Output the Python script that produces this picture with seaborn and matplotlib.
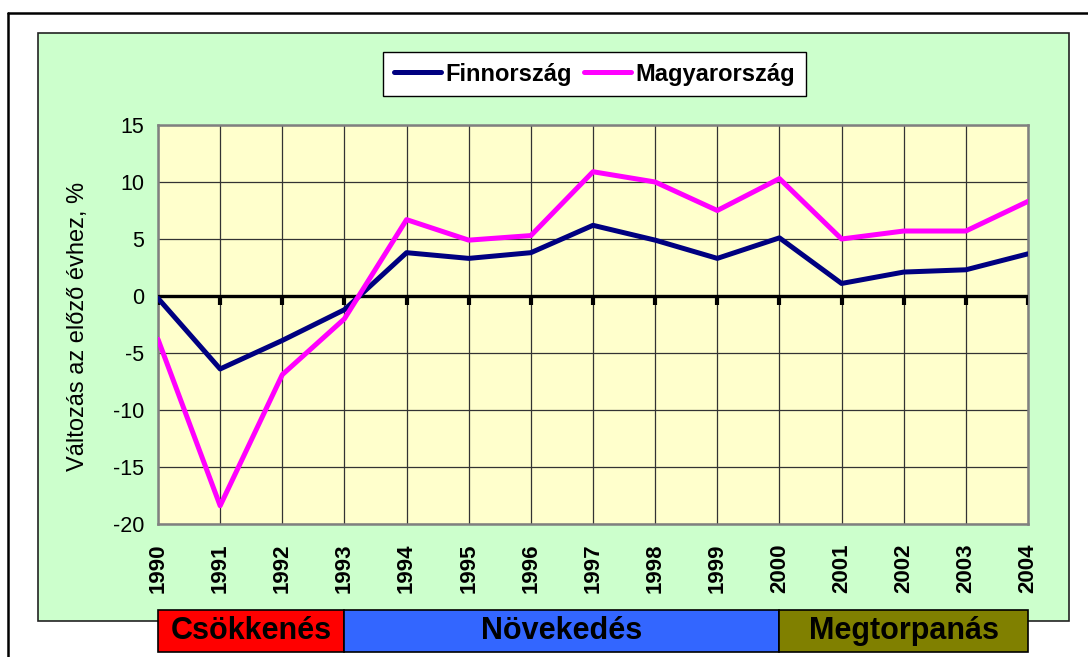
import pandas as pd
import seaborn as sns
import matplotlib.pyplot as plt
from matplotlib.patches import Rectangle
from matplotlib.lines import Line2D
import matplotlib.transforms as mtransforms

# adatok (leolvasva a grafikonrol)
evek = list(range(1990, 2005))
finnorszag = [-0.2, -6.4, -3.9, -1.2, 3.8, 3.3, 3.8, 6.2, 4.9, 3.3, 5.1, 1.1, 2.1, 2.3, 3.7]
magyarorszag = [-3.8, -18.4, -6.9, -2.0, 6.7, 4.9, 5.3, 10.9, 10.0, 7.5, 10.3, 5.0, 5.7, 5.7, 8.3]
orszagok = ["Finnország", "Magyarország"]
szinek = ["#000080", "#FF00FF"]

# szakaszok a grafikon alatt
szakasz_nevek = ["Csökkenés", "Növekedés", "Megtorpanás"]
szakasz_kezdet = [1990, 1993, 2000]
szakasz_veg = [1993, 2000, 2004]
szakasz_szinek = ["#FF0000", "#3366FF", "#808000"]

df = pd.DataFrame({
    "Év": evek * 2,
    "Változás": finnorszag + magyarorszag,
    "Ország": [orszagok[0]] * len(evek) + [orszagok[1]] * len(evek),
})

sns.set_style("white")
plt.rcParams["font.family"] = ["Liberation Sans", "DejaVu Sans"]
plt.rcParams["axes.unicode_minus"] = False
plt.rcParams["text.color"] = "black"
plt.rcParams["axes.labelcolor"] = "black"
plt.rcParams["xtick.color"] = "black"
plt.rcParams["ytick.color"] = "black"

fig = plt.figure(figsize=(10.88, 6.57), dpi=100)
fig.patch.set_facecolor("white")

# kulso keret en zold hatter
fig.add_artist(Line2D([8 / 1088, 1], [1 - 13 / 657, 1 - 13 / 657], color="black", lw=1.8))
fig.add_artist(Line2D([8 / 1088, 8 / 1088], [0, 1 - 13 / 657], color="black", lw=1.8))
fig.add_artist(Rectangle((38 / 1088, 1 - 621 / 657), (1069 - 38) / 1088, 588 / 657,
                         facecolor="#CCFFCC", edgecolor="#222222", lw=1.2, zorder=0))

ax = fig.add_axes([158 / 1088, 1 - 524 / 657, 870 / 1088, 399 / 657])
ax.set_facecolor("#FFFFCC")

sns.lineplot(data=df, x="Év", y="Változás", hue="Ország", palette=szinek,
             linewidth=3.6, ax=ax, zorder=5)

ax.set_xlim(1990, 2004)
ax.set_ylim(-20, 15)
ax.set_xticks(evek)
ax.set_yticks(range(-20, 16, 5))
ax.grid(True, color="#333333", lw=0.9)

# nulla vonal met streepjes
ax.axhline(0, color="black", lw=2.4, zorder=4)
ax.vlines(evek, -0.75, 0, color="black", lw=3, zorder=4)

for s in ax.spines.values():
    s.set_color("#808080")
    s.set_linewidth(1.8)

ax.tick_params(axis="y", length=6, color="#808080", width=1.2, labelsize=15.5,
               labelcolor="black", pad=4)
ax.tick_params(axis="x", length=0, labelsize=16, pad=14, labelrotation=90,
               labelcolor="black")
for t in ax.get_xticklabels():
    t.set_fontweight("bold")

ax.set_xlabel("")
ax.set_ylabel("Változás az előző évhez, %", fontsize=17, color="black")
ax.yaxis.set_label_coords(-0.079, 0.495)

leg = ax.legend(loc="upper center", bbox_to_anchor=(0.5464, 0.939),
                bbox_transform=fig.transFigure, ncol=2, frameon=True, fancybox=False,
                prop={"weight": "bold", "size": 17}, handlelength=2.0,
                handletextpad=0.2, columnspacing=0.5, borderpad=0.45)
leg.get_frame().set_edgecolor("black")
leg.get_frame().set_facecolor("white")
leg.get_frame().set_alpha(1)
leg.get_frame().set_linewidth(1.0)
for h in leg.get_lines():
    h.set_linewidth(3.6)
for t in leg.get_texts():
    t.set_color("black")

# szakasz dobozok
trans = mtransforms.blended_transform_factory(ax.transData, fig.transFigure)
for nev, k, v, c in zip(szakasz_nevek, szakasz_kezdet, szakasz_veg, szakasz_szinek):
    ax.add_patch(Rectangle((k, 1 - 652 / 657), v - k, 42 / 657, transform=trans,
                           facecolor=c, edgecolor="black", lw=1.2, clip_on=False))
    ax.text((k + v) / 2, 1 - 631 / 657, nev, transform=trans, ha="center", va="center",
            fontsize=22, fontweight="bold", color="black", clip_on=False)

plt.savefig("out.png", dpi=100)
